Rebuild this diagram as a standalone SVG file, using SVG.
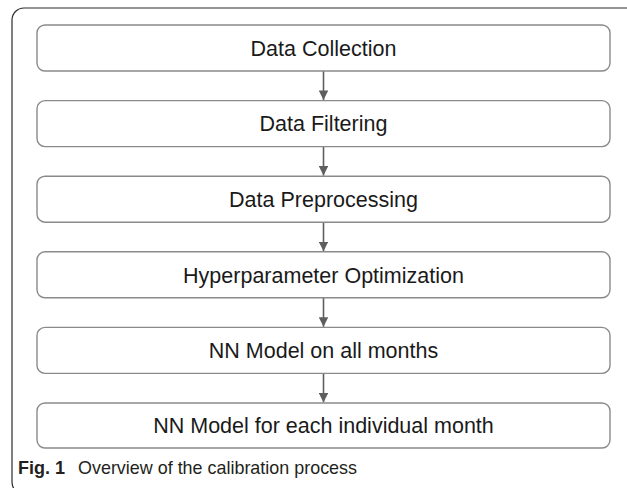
<svg xmlns="http://www.w3.org/2000/svg" width="627" height="488" viewBox="0 0 627 488">
<style>
.box{fill:#fff;stroke:#8a8a8a;stroke-width:1.4}
.lbl{font-family:"Liberation Sans",Arial,sans-serif;font-size:21.5px;fill:#1a1a1a;text-anchor:middle}
.con{stroke:#5e5e5e;stroke-width:1.6;fill:none}
.cap{font-family:"Liberation Sans",Arial,sans-serif;font-size:19px;fill:#231f20}
</style>
<defs>
<marker id="ah" viewBox="0 0 10 10" refX="10" refY="5" markerWidth="6" markerHeight="6" orient="auto" markerUnits="strokeWidth">
<path d="M0,0 L10,5 L0,10 z" fill="#5e5e5e"/>
</marker>
</defs>
<rect width="627" height="488" fill="#fff"/>
<path d="M627,8 H24 A12,12 0 0 0 12,20 V482 Q12,487 15,490" fill="none" stroke="#2b2b2b" stroke-width="1.2"/>
<g id="connectors">
<line class="con" x1="323.5" y1="71" x2="323.5" y2="100" marker-end="url(#ah)"/>
<line class="con" x1="323.5" y1="146.6" x2="323.5" y2="175.6" marker-end="url(#ah)"/>
<line class="con" x1="323.5" y1="222.2" x2="323.5" y2="251.2" marker-end="url(#ah)"/>
<line class="con" x1="323.5" y1="297.8" x2="323.5" y2="326.8" marker-end="url(#ah)"/>
<line class="con" x1="323.5" y1="373.4" x2="323.5" y2="402.4" marker-end="url(#ah)"/>
</g>
<g id="n1"><rect class="box" x="37" y="25" width="573" height="46" rx="8"/><text class="lbl" x="323.5" y="55.8">Data Collection</text></g>
<g id="n2"><rect class="box" x="37" y="100.6" width="573" height="46" rx="8"/><text class="lbl" x="323.5" y="131.4">Data Filtering</text></g>
<g id="n3"><rect class="box" x="37" y="176.2" width="573" height="46" rx="8"/><text class="lbl" x="323.5" y="207">Data Preprocessing</text></g>
<g id="n4"><rect class="box" x="37" y="251.8" width="573" height="46" rx="8"/><text class="lbl" x="323.5" y="282.6">Hyperparameter Optimization</text></g>
<g id="n5"><rect class="box" x="37" y="327.4" width="573" height="46" rx="8"/><text class="lbl" x="323.5" y="358.2">NN Model on all months</text></g>
<g id="n6"><rect class="box" x="37" y="403" width="573" height="45" rx="8"/><text class="lbl" x="323.5" y="433.3">NN Model for each individual month</text></g>
<text class="cap" x="18" y="474" font-weight="bold" textLength="47" lengthAdjust="spacingAndGlyphs">Fig. 1</text>
<text class="cap" x="78" y="474" textLength="279" lengthAdjust="spacingAndGlyphs">Overview of the calibration process</text>
</svg>
